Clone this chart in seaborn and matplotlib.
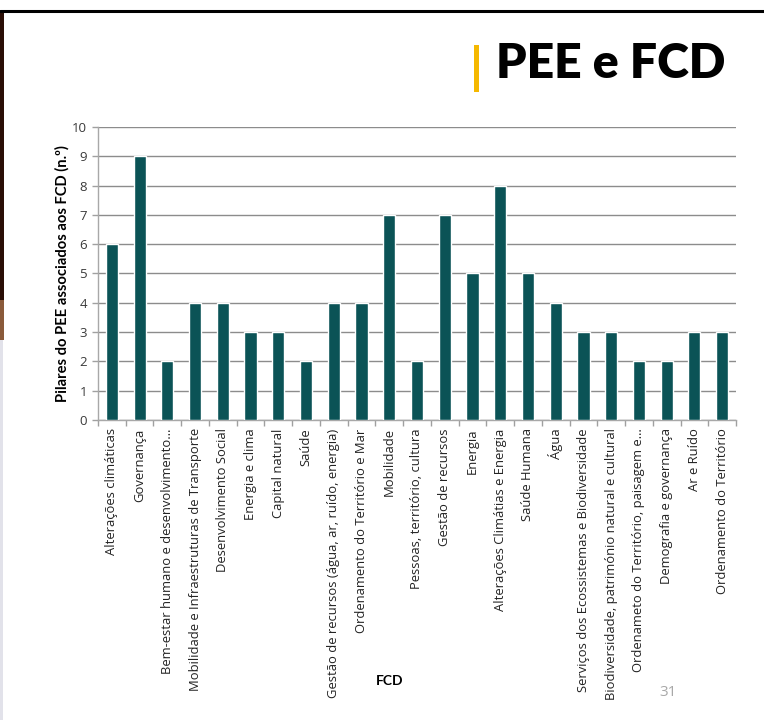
import matplotlib
matplotlib.use("Agg")
import matplotlib.pyplot as plt
import seaborn as sns
import pandas as pd
from matplotlib.patches import Rectangle
from matplotlib.lines import Line2D

# FCD categories and number of PEE pillars associated with each
fcd = [
    "Alterações climáticas",
    "Governança",
    "Bem-estar humano e desenvolvimento…",
    "Mobilidade e Infraestruturas de Transporte",
    "Desenvolvimento Social",
    "Energia e clima",
    "Capital natural",
    "Saúde",
    "Gestão de recursos (água, ar, ruído, energia)",
    "Ordenamento do Território e Mar",
    "Mobilidade",
    "Pessoas, território, cultura",
    "Gestão de recursos",
    "Energia",
    "Alterações Climátias e Energia",
    "Saúde Humana",
    "Água",
    "Serviços dos Ecossistemas e Biodiversidade",
    "Biodiversidade, património natural e cultural",
    "Ordenameto do Território, paisagem e…",
    "Demografia e governança",
    "Ar e Ruído",
    "Ordenamento do Território",
]
pilares = [6, 9, 2, 4, 4, 3, 3, 2, 4, 4, 7, 2, 7, 5, 8, 5, 4, 3, 3, 2, 2, 3, 3]
y_ticks = list(range(0, 11))

df = pd.DataFrame({"FCD": fcd, "Pilares": pilares})

sns.set_theme(style="white")
plt.rcParams["font.family"] = ["Open Sans", "DejaVu Sans"]

W, H = 764, 724
fig = plt.figure(figsize=(W / 100, H / 100), dpi=100)
fig.patch.set_facecolor("white")

ax = fig.add_axes([98 / W, 1 - 420 / H, (736 - 98) / W, (420 - 127) / H])
sns.barplot(data=df, x="FCD", y="Pilares", color="#0b5356", saturation=1,
            width=0.44, ax=ax, zorder=3)

ax.set_ylim(0, 10)
ax.set_xlim(-0.5, len(fcd) - 0.5)
ax.set_yticks(y_ticks)
ax.set_yticklabels([str(v) for v in y_ticks], fontsize=9.5, color="#3a3a3a")
ax.yaxis.grid(True, color="#8c8c8c", linewidth=1.0, zorder=0)
ax.set_axisbelow(True)

# category labels rotated vertically below the axis
ax.set_xticks(range(len(fcd)))
xlabels = ax.set_xticklabels(fcd, rotation=90, fontsize=10, color="#222222",
                             va="top", ha="center")
ax.tick_params(axis="x", length=0, pad=6)
ax.tick_params(axis="y", length=4, color="#a0a0a0", width=1, pad=4, left=True)
# boundary ticks between categories
ax.set_xticks([i - 0.5 for i in range(len(fcd) + 1)], minor=True)
ax.tick_params(axis="x", which="minor", length=4, color="#a0a0a0", width=1, bottom=True)

for side in ["top", "right"]:
    ax.spines[side].set_visible(False)
for side in ["left", "bottom"]:
    ax.spines[side].set_color("#a8a8a8")
    ax.spines[side].set_linewidth(1.0)

ylab = ax.set_ylabel("Pilares do PEE associados aos FCD (n.º)", fontsize=10,
                     fontweight="bold", color="black", labelpad=2,
                     family=["Lato", "DejaVu Sans"])
ax.set_xlabel("")
fig.text(390 / W, 1 - 681 / H, "FCD", fontsize=10, fontweight="bold", ha="center",
         va="center", color="black", family=["Lato", "DejaVu Sans"])

# slide header: top rule, accent bar and title
fig.add_artist(Line2D([0, 1], [1 - 11 / H, 1 - 11 / H], transform=fig.transFigure,
                      color="black", linewidth=2.2))
fig.add_artist(Rectangle((474 / W, 1 - 92 / H), 5 / W, 47 / H, transform=fig.transFigure,
                         facecolor="#f5b800", edgecolor="none"))
title = fig.text(496 / W, 1 - 64 / H, "PEE e FCD", fontsize=34, fontweight="heavy",
                 ha="left", va="center", color="black", family=["Lato", "DejaVu Sans"])

# page number
fig.text(668 / W, 1 - 693 / H, "31", fontsize=11, color="#a8a8a8", ha="center", va="center")

# left slide edge
fig.add_artist(Rectangle((0, 1 - 300 / H), 4 / W, 288 / H, transform=fig.transFigure,
                         facecolor="#2a0e06", edgecolor="none"))
fig.add_artist(Rectangle((0, 1 - 340 / H), 4 / W, 40 / H, transform=fig.transFigure,
                         facecolor="#8a5a3a", edgecolor="none"))
fig.add_artist(Rectangle((0, 1 - 720 / H), 3 / W, 380 / H, transform=fig.transFigure,
                         facecolor="#e2e2ea", edgecolor="none"))

# size the texts so their rendered lengths fit the slide layout
fig.canvas.draw()
renderer = fig.canvas.get_renderer()
longest = xlabels[fcd.index("Serviços dos Ecossistemas e Biodiversidade")]
h = longest.get_window_extent(renderer).height
size = 10 * 262 / h
for t in xlabels:
    t.set_fontsize(size)
yl_h = ylab.get_window_extent(renderer).height
ylab.set_fontsize(10 * 256 / yl_h)
tw = title.get_window_extent(renderer).width
title.set_fontsize(34 * 230 / tw)

fig.savefig("out.png", dpi=100, facecolor="white")
